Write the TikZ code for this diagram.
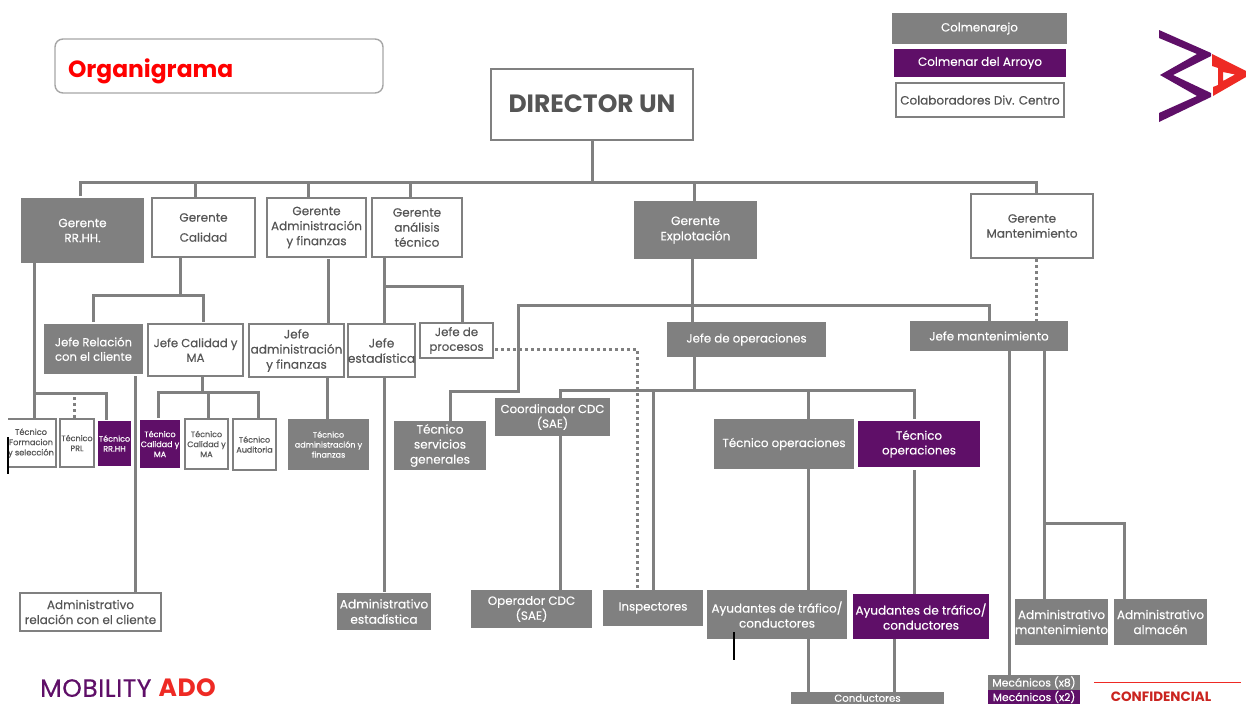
\documentclass[tikz,border=0pt]{standalone}
\usepackage{fontspec}
\setmainfont{Poppins}[FakeBold=0.35,BoldFeatures={FakeBold=0}]
\usetikzlibrary{calc}
\definecolor{gr}{HTML}{808080}
\definecolor{pu}{HTML}{5F0F68}
\definecolor{rd}{HTML}{EE2A24}
\definecolor{tx}{HTML}{555555}
\newcommand{\FS}[1]{\fontsize{#1}{\fpeval{#1*1.25}}\selectfont}
\tikzset{x=1pt,y=-1pt,
 base/.style={align=center,inner sep=0pt,font=\FS{#1}},
 ln/.style={draw=gr,line width=3pt,line join=miter},
 dot/.style={draw=gr,line width=3pt,dash pattern=on 3pt off 3pt},
 wb/.style={draw=gr,line width=2.6pt,fill=white,text=tx},
 gb/.style={fill=gr,text=white},
 pb/.style={fill=pu,text=white},
}
\newcommand{\BX}[8]{\node[base=#7,minimum width=#4pt-#2pt,minimum height=#5pt-#3pt,anchor=center,#6] (#1) at ({(#2+#4)/2},{(#3+#5)/2}) {#8};}
\begin{document}
\begin{tikzpicture}
\useasboundingbox (0,0) rectangle (1246,704);
\fill[white] (0,0) rectangle (1246,704);
\draw[ln] (80,196) -- (80,182) -- (1036,182) -- (1036,194);
\draw[ln] (592,140) -- (592,182);
\draw[ln] (195,182) -- (195,197);
\draw[ln] (308,182) -- (308,197);
\draw[ln] (410,182) -- (410,197);
\draw[ln] (694,182) -- (694,201);
\draw[ln] (34,263) -- (34,418);
\draw[ln] (34,393) -- (106,393) -- (106,420);
\draw[dot] (74,397) -- (74,418);
\draw[ln] (180,258) -- (180,295);
\draw[ln] (93,322) -- (93,295) -- (203,295) -- (203,322);
\draw[ln] (135,376) -- (135,592);
\draw[ln] (202,377) -- (202,392);
\draw[ln] (158,418) -- (158,392) -- (258,392) -- (258,418);
\draw[ln] (208,392) -- (208,418);
\draw[ln] (328,259) -- (328,323);
\draw[ln] (327,377) -- (327,419);
\draw[ln] (384,258) -- (384,592);
\draw[ln] (384,286) -- (462,286) -- (462,323);
\draw[dot] (495,349) -- (637,349) -- (637,590);
\draw[ln] (692,259) -- (692,322);
\draw[ln] (450,421) -- (450,391) -- (518,391) -- (518,305) -- (989,305) -- (989,322);
\draw[ln] (694,357) -- (694,390);
\draw[ln] (560,398) -- (560,390) -- (914,390) -- (914,419);
\draw[ln] (808,390) -- (808,419);
\draw[ln] (653,390) -- (653,592);
\draw[ln] (560,436) -- (560,590);
\draw[ln] (808,468) -- (808,590);
\draw[ln] (914,470) -- (914,594);
\draw[ln] (808,639) -- (808,692);
\draw[ln] (894,639) -- (894,692);
\draw[dot] (1036,259) -- (1036,321);
\draw[ln] (1009,351) -- (1009,675);
\draw[ln] (1044,351) -- (1044,600);
\draw[ln] (1044,523) -- (1124,523) -- (1124,600);
\BX{titleb}{55}{39}{383}{93}{draw=gr!70,line width=1.4pt,rounded corners=8pt,fill=white,text width=302pt,align=left,text=red,font=\FS{23.4}\bfseries,text depth=0pt}{23}{\raisebox{-4pt}{Organigrama}}
\BX{dir}{491}{69}{693}{140}{wb,font=\FS{25}\bfseries}{25}{\raisebox{2pt}{DIRECTOR UN}}
\BX{l1}{892}{13}{1067}{44}{gb}{11.8}{Colmenarejo}
\BX{l2}{894}{49}{1066}{77}{pb}{12}{Colmenar del Arroyo}
\BX{l3}{896}{83}{1064}{117}{wb}{12}{Colaboradores Div. Centro}
\BX{g1}{21}{198}{144}{263}{gb}{12}{Gerente\\RR.HH.}
\BX{g2}{152}{198}{255}{257}{wb}{12}{Gerente\\[5pt]Calidad}
\BX{g3}{267}{198}{366}{257}{wb}{12}{Gerente\\Administración\\y finanzas}
\BX{g4}{372}{198}{462}{257}{wb}{12}{Gerente\\análisis\\técnico}
\BX{g5}{634}{201}{757}{259}{gb}{12.2}{Gerente\\Explotación}
\BX{g6}{971}{194}{1093}{258}{wb}{12}{Gerente\\Mantenimiento}
\BX{j1}{44}{324}{143}{374}{gb}{11.6}{Jefe Relación\\con el cliente}
\BX{j2}{148}{324}{243}{376}{wb}{11.7}{Jefe Calidad y\\MA}
\BX{j3}{249}{324}{344}{377}{wb}{12.1}{Jefe\\administración\\y finanzas}
\BX{j4}{348}{324}{415}{377}{wb}{12.2}{Jefe\\estadística}
\BX{j5}{420}{323}{493}{358}{wb}{11.8}{Jefe de\\procesos}
\BX{j6}{667}{322}{826}{357}{gb}{11.8}{Jefe de operaciones}
\BX{j7}{910}{321}{1068}{351}{gb}{11.8}{Jefe mantenimiento}
\BX{t1}{6}{419}{56}{467}{wb}{8.2}{Técnico\\Formacion\\y selección}
\fill[white] (0,410) rectangle (7.6,480);
\BX{t2}{60}{419}{94}{467}{wb}{8}{Técnico\\PRL}
\BX{t3}{98}{421}{131}{466}{pb}{8}{Técnico\\RR.HH}
\BX{t4}{140}{420}{180}{468}{pb}{8}{Técnico\\Calidad y\\MA}
\BX{t5}{185}{419}{228}{469}{wb}{8}{Técnico\\Calidad y\\MA}
\BX{t6}{233}{419}{276}{470}{wb}{8}{Técnico\\Auditoria}
\BX{t7}{288}{419}{369}{470}{gb}{8}{Técnico\\administración y\\finanzas}
\BX{t8}{394}{421}{486}{470}{gb}{12}{Técnico\\servicios\\generales}
\BX{c1}{495}{398}{610}{436}{gb}{11.7}{Coordinador CDC\\(SAE)}
\BX{t9}{714}{419}{854}{469}{gb}{11.8}{Técnico operaciones}
\BX{t10}{858}{421}{980}{467}{pb}{11.8}{Técnico\\operaciones}
\BX{a1}{20}{593}{161}{631}{wb}{12}{Administrativo\\relación con el cliente}
\BX{a2}{337}{593}{431}{630}{gb}{12.2}{Administrativo\\estadística}
\BX{o1}{471}{590}{592}{628}{gb}{11.9}{Operador CDC\\(SAE)}
\BX{o2}{603}{590}{703}{626}{gb}{11.8}{Inspectores}
\BX{o3}{707}{590}{847}{639}{gb}{12}{Ayudantes de tráfico/\\conductores}
\BX{o4}{853}{594}{989}{639}{pb}{12}{Ayudantes de tráfico/\\conductores}
\BX{a3}{1015}{599}{1108}{645}{gb}{12}{Administrativo\\mantenimiento}
\BX{a4}{1114}{599}{1207}{645}{gb}{12}{Administrativo\\almacén}
\BX{m1}{988}{675}{1080}{690}{gb}{10.8}{Mecánicos (x8)}
\BX{m2}{988}{690}{1080}{704}{pb}{10.8}{Mecánicos (x2)}
\BX{k1}{791}{692}{944}{704}{gb}{10.2}{Conductores}
\fill[pu] (1159,30) -- (1211,53) -- (1211,56) -- (1173,75) -- (1211,93) -- (1211,97) -- (1159,122) -- (1159,113) -- (1197,96) -- (1160,75) -- (1197,54) -- (1159,38) -- cycle;
\fill[rd,even odd rule] (1212,54) -- (1246,71) -- (1246,77) -- (1213,96) -- (1213,87) -- (1218,85) -- (1218,68) -- (1212,66) -- cycle (1223,72) -- (1235,74.5) -- (1223,81) -- cycle;
\draw[black,line width=1.6pt] (8,437) -- (8,474);
\draw[black,line width=1.6pt] (734,632) -- (734,660);
\draw[rd,line width=1pt] (1094,682) -- (1241,682);
\node[base=13,text=rd!85!black,font=\FS{13.5}\bfseries] (conf) at (1161,697) {CONFIDENCIAL};
\node[base=24,anchor=west,text=pu,font=\FS{25}] (mob) at (40,688) {\addfontfeature{LetterSpace=2}MOBILITY \textcolor{rd}{\bfseries ADO}};
\end{tikzpicture}
\end{document}
